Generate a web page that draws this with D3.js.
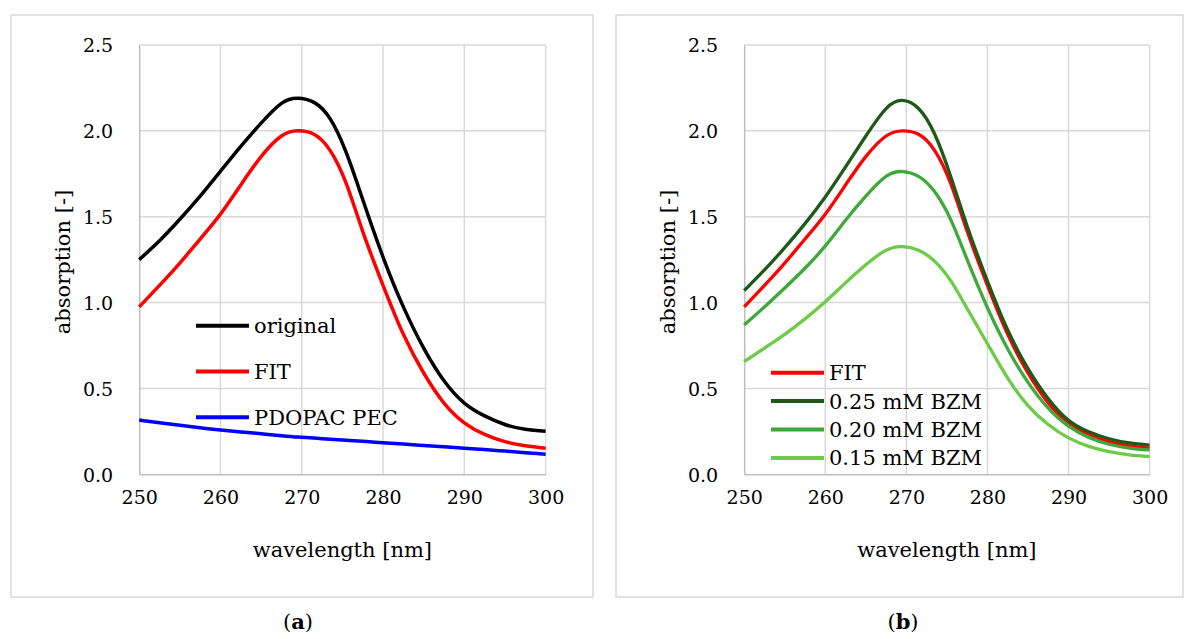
<!DOCTYPE html>
<html><head><meta charset="utf-8">
<script src="https://cdn.jsdelivr.net/npm/d3@7"></script>
<style>
html,body{margin:0;padding:0;background:#fff;}
svg{display:block;}
text{font-family:"DejaVu Serif",serif;fill:#000;}
</style></head>
<body>
<svg id="c" width="1185" height="639"></svg>
<script>
// ---- data ----
const wavelengths = [250,252.5,255,257.5,260,262.5,265,267.5,269.5,271.5,273.5,275.5,277.5,280,282.5,285,287.5,290,292.5,295,297.5,300];
const original = [1.25,1.36,1.485,1.62,1.765,1.91,2.045,2.16,2.19,2.166,2.07,1.87,1.60,1.265,0.975,0.735,0.545,0.415,0.34,0.29,0.262,0.25];
const fit      = [0.975,1.10,1.23,1.37,1.515,1.685,1.85,1.97,2.00,1.98,1.885,1.69,1.415,1.10,0.815,0.59,0.415,0.30,0.232,0.19,0.166,0.152];
const pdopac   = [0.316,0.300,0.285,0.271,0.258,0.247,0.236,0.225,0.217,0.211,0.204,0.198,0.192,0.184,0.176,0.168,0.160,0.152,0.144,0.135,0.126,0.117];
const bzm025   = [1.07,1.19,1.32,1.46,1.615,1.79,1.97,2.13,2.177,2.13,1.98,1.73,1.445,1.125,0.84,0.615,0.44,0.315,0.248,0.207,0.183,0.17];
const bzm020   = [0.87,0.975,1.085,1.20,1.33,1.48,1.62,1.735,1.763,1.735,1.645,1.48,1.25,0.97,0.73,0.535,0.385,0.28,0.215,0.175,0.153,0.142];
const bzm015   = [0.656,0.735,0.815,0.905,1.005,1.115,1.22,1.305,1.326,1.305,1.24,1.125,0.965,0.76,0.56,0.40,0.29,0.212,0.163,0.132,0.113,0.103];
const xTicks = [250,260,270,280,290,300];
const yTicks = [0,0.5,1.0,1.5,2.0,2.5];
const panelA = [
  {name:"original", values:original, color:"#000000"},
  {name:"FIT", values:fit, color:"#ff0000"},
  {name:"PDOPAC PEC", values:pdopac, color:"#0000ff"}
];
const panelB = [
  {name:"FIT", values:fit, color:"#ff0000"},
  {name:"0.25 mM BZM", values:bzm025, color:"#1d5a1a"},
  {name:"0.20 mM BZM", values:bzm020, color:"#3fa83a"},
  {name:"0.15 mM BZM", values:bzm015, color:"#6dcb47"}
];

const svg = d3.select("#c");

function panel(cfg){
  const g = svg.append("g");
  g.append("rect").attr("x",cfg.box[0]).attr("y",cfg.box[1]).attr("width",cfg.box[2]).attr("height",cfg.box[3])
    .attr("fill","none").attr("stroke","#d9d9d9").attr("stroke-width",1.5);
  const x = d3.scaleLinear().domain([250,300]).range([cfg.px0,cfg.px1]);
  const y = d3.scaleLinear().domain([0,2.5]).range([474.3,45]);
  g.append("g").selectAll("line").data(xTicks.slice(1)).join("line")
    .attr("x1",d=>x(d)).attr("x2",d=>x(d)).attr("y1",y(0)).attr("y2",y(2.5))
    .attr("stroke","#d9d9d9").attr("stroke-width",1.5);
  g.append("g").selectAll("line").data(yTicks.slice(1)).join("line")
    .attr("x1",x(250)).attr("x2",x(300)).attr("y1",d=>y(d)).attr("y2",d=>y(d))
    .attr("stroke","#d9d9d9").attr("stroke-width",1.5);
  const ax = g.append("g").attr("transform",`translate(0,${y(0)})`)
    .call(d3.axisBottom(x).tickValues(xTicks).tickSize(0).tickPadding(30).tickFormat(d3.format("d")));
  ax.select(".domain").attr("stroke","#bfbfbf").attr("stroke-width",1.5);
  ax.selectAll("text").attr("font-size",19).attr("font-family","DejaVu Serif").attr("fill","#000").attr("dy","0");
  const ay = g.append("g").attr("transform",`translate(${x(250)},0)`)
    .call(d3.axisLeft(y).tickValues(yTicks).tickSize(0).tickPadding(26).tickFormat(d3.format(".1f")));
  ay.select(".domain").attr("stroke","#bfbfbf").attr("stroke-width",1.5);
  ay.selectAll("text").attr("font-size",19).attr("font-family","DejaVu Serif").attr("fill","#000").attr("dy","0.36em");
  g.append("text").attr("x",(x(250)+x(300))/2).attr("y",557).attr("text-anchor","middle")
    .attr("font-size",21).text("wavelength [nm]");
  g.append("text").attr("transform",`translate(${x(250)-69},262) rotate(-90)`).attr("text-anchor","middle")
    .attr("font-size",21).text("absorption [-]");
  const line = d3.line().x((d,i)=>x(wavelengths[i])).y(d=>y(d)).curve(d3.curveNatural);
  g.append("g").selectAll("path").data(cfg.series).join("path")
    .attr("d",s=>line(s.values)).attr("fill","none").attr("stroke",s=>s.color)
    .attr("stroke-width",cfg.lw).attr("stroke-linejoin","round");
  const lg = g.append("g").selectAll("g").data(cfg.series).join("g")
    .attr("transform",(s,i)=>`translate(${cfg.leg[0]},${cfg.leg[1]+i*cfg.leg[2]})`);
  lg.append("line").attr("x1",0).attr("x2",53).attr("y1",0).attr("y2",0)
    .attr("stroke",s=>s.color).attr("stroke-width",4);
  lg.append("text").attr("x",58).attr("y",7.5).attr("font-size",21).text(s=>s.name);
  const lab = g.append("text").attr("x",cfg.lab).attr("y",629).attr("text-anchor","middle").attr("font-size",21);
  lab.append("tspan").text("(");
  lab.append("tspan").attr("font-weight","bold").text(cfg.letter);
  lab.append("tspan").text(")");
}

panel({box:[11,15,582,582], px0:139.2, px1:545.6, series:panelA, lw:3.5, leg:[196,325.7,45.8], lab:298, letter:"a"});
panel({box:[616,15,567,582], px0:744.2, px1:1149.6, series:panelB, lw:3.3, leg:[771,372.7,28.4], lab:903, letter:"b"});
</script>
</body></html>
